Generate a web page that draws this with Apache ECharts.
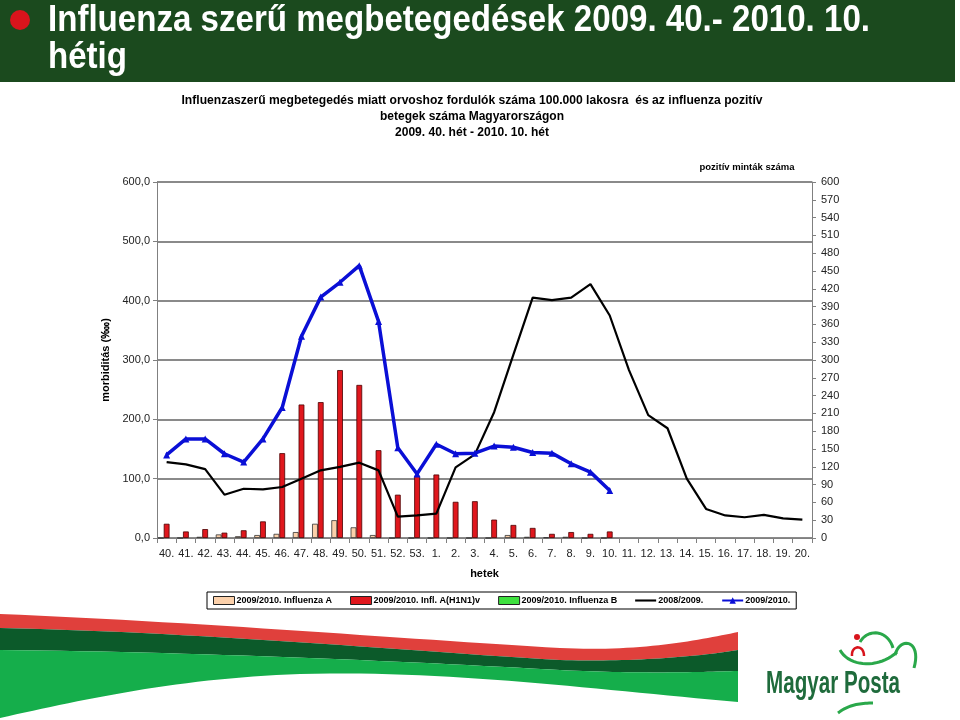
<!DOCTYPE html>
<html><head><meta charset="utf-8">
<script src="https://cdn.jsdelivr.net/npm/echarts@6/dist/echarts.min.js"></script>
<style>html,body{margin:0;padding:0;background:#fff}#c{width:960px;height:720px}</style>
</head><body><div id="c"></div>
<script>
// ---- data ----
const weeks = ['40.','41.','42.','43.','44.','45.','46.','47.','48.','49.','50.','51.','52.','53.',
  '1.','2.','3.','4.','5.','6.','7.','8.','9.','10.','11.','12.','13.','14.','15.','16.','17.','18.','19.','20.'];
const influenzaA = [0,0,2,6,3,5,7,10,24,30,18,5,0,0, 0,0,0,0,5,2,1,2,0,0, null,null,null,null,null,null,null,null,null,null];
const h1n1 = [24,11,15,9,13,28,143,225,229,283,258,148,73,105, 107,61,62,31,22,17,7,10,7,11, null,null,null,null,null,null,null,null,null,null];
const influenzaB = [0,0,0,0,0,0,0,0,0,0,0,0,0,0, 0,0,0,0,0,0,0,0,0,0, null,null,null,null,null,null,null,null,null,null];
const season0809 = [128,124,116,73,83,82,86,100,114,120,127,114,36,38, 41,119,141,212,309,405,401,405,428,375,283,207,185,100,49,38,35,39,33,31];
const season0910 = [140,167,167,142,128,167,220,340,406,431,459,365,152,108, 158,142,143,155,153,144,143,125,111,80, null,null,null,null,null,null,null,null,null,null];
const seriesNames = ['2009/2010. Influenza A','2009/2010. Infl. A(H1N1)v','2009/2010. Influenza B','2008/2009.','2009/2010.'];
const headerLines = ['Influenza szerű megbetegedések 2009. 40.- 2010. 10.','hétig'];
const chartTitleLines = ['Influenzaszerű megbetegedés miatt orvoshoz fordulók száma 100.000 lakosra  és az influenza pozitív','betegek száma Magyarországon','2009. 40. hét - 2010. 10. hét'];

// ---- helpers ----
const FF = "'Liberation Sans', Arial, Helvetica, sans-serif";
const cv = document.createElement('canvas').getContext('2d');
function fitText(text, x, y, font, targetW, fill, align, z) {
  cv.font = font;
  const w = cv.measureText(text).width;
  const s = targetW / w;
  return {type:'text', x:x, y:y, scaleX:s, z: z||10,
    style:{text:text, font:font, fill:fill, textAlign:align, align:align, textVerticalAlign:'middle', verticalAlign:'middle'}};
}
// sample a chain of cubic bezier segments: start point + [c1x,c1y,c2x,c2y,x,y]...
function bez(start, segs, n) {
  const pts = [start.slice()];
  let p0 = start;
  segs.forEach(s => {
    const [c1x,c1y,c2x,c2y,x,y] = s;
    for (let i = 1; i <= n; i++) {
      const t = i / n, u = 1 - t;
      pts.push([u*u*u*p0[0] + 3*u*u*t*c1x + 3*u*t*t*c2x + t*t*t*x,
                u*u*u*p0[1] + 3*u*u*t*c1y + 3*u*t*t*c2y + t*t*t*y]);
    }
    p0 = [x, y];
  });
  return pts;
}
function band(topStart, topSegs, botStart, botSegs, fill) {
  const pts = bez(topStart, topSegs, 30).concat(bez(botStart, botSegs, 30));
  return {type:'polygon', shape:{points:pts}, style:{fill:fill}, z:1};
}
function curve(start, segs, color, w) {
  return {type:'polyline', shape:{points:bez(start, segs, 20)}, style:{stroke:color, lineWidth:w, fill:null}, z:2};
}

const chart = echarts.init(document.getElementById('c'), null, {renderer:'canvas'});

const graphics = [
  {type:'rect', shape:{x:0,y:0,width:955,height:82}, style:{fill:'#1b4a1e'}, z:1},
  {type:'circle', shape:{cx:20,cy:20,r:10}, style:{fill:'#d8141c'}, z:2},
  fitText(headerLines[0], 48, 21, "bold 36px " + FF, 822, '#ffffff', 'left'),
  fitText(headerLines[1], 48, 58, "bold 36px " + FF, 79, '#ffffff', 'left'),
  fitText(chartTitleLines[0], 472, 101, "bold 12px " + FF, 581, '#000', 'center'),
  fitText(chartTitleLines[1], 472, 117, "bold 12px " + FF, 184, '#000', 'center'),
  fitText(chartTitleLines[2], 472, 133, "bold 12px " + FF, 154, '#000', 'center'),
  // bottom waves
  band([0,614], [[200,622,420,640,560,648],[640,652,700,640,738,632]],
       [738,650], [[690,658,620,662,560,660],[420,652,200,632,0,628]], '#e0403c'),
  band([0,628], [[200,632,420,652,560,660],[620,662,690,658,738,650]],
       [738,671], [[700,672,640,674,560,670],[420,662,200,652,0,650]], '#0c5a2a'),
  band([0,650], [[200,652,420,662,560,670],[640,674,700,672,738,671]],
       [738,702], [[600,690,450,670,300,674],[180,678,80,700,0,718]], '#15ae4b'),
  // logo
  curve([840,650], [[850,668,880,668,897,652]], '#2aa84a', 3),
  curve([860,642], [[868,628,888,630,893,648]], '#2aa84a', 3),
  curve([895,655], [[900,636,922,640,914,668]], '#2aa84a', 3),
  {type:'circle', shape:{cx:857,cy:637,r:3}, style:{fill:'#d8141c'}, z:2},
  curve([852,656], [[851,645,864,644,864,656]], '#d8141c', 2.5),
  fitText('Magyar Posta', 766, 684, "bold 32px " + FF, 134, '#1f6b3c', 'left'),
  curve([838,713], [[848,705,860,703,873,703]], '#2aa84a', 3)
];

const option = {
  animation:false,
  backgroundColor:'#ffffff',
  textStyle:{fontFamily:FF},
  grid:{left:157, right:148, top:182, bottom:182},
  legend:{
    left:207, top:592,
    data:[
      {name:seriesNames[0], icon:'rect', itemStyle:{borderColor:'#222', borderWidth:1}},
      {name:seriesNames[1], icon:'rect', itemStyle:{borderColor:'#222', borderWidth:1}},
      {name:seriesNames[2], icon:'rect', itemStyle:{borderColor:'#222', borderWidth:1}},
      {name:seriesNames[3], icon:'path://M0,0L20,0L20,2L0,2Z'},
      {name:seriesNames[4]}
    ],
    borderColor:'#000', borderWidth:1, padding:[4,6,4,6], itemGap:18,
    itemWidth:21, itemHeight:8,
    textStyle:{fontSize:9, fontWeight:'bold', color:'#000', padding:[0,0,0,-3]}
  },
  xAxis:{
    type:'category', data:weeks, boundaryGap:true,
    name:'hetek', nameLocation:'middle', nameGap:30,
    nameTextStyle:{fontSize:11, fontWeight:'bold', color:'#000'},
    axisLine:{lineStyle:{color:'#808080', width:1}},
    axisTick:{show:true, interval:0, length:5, lineStyle:{color:'#808080'}},
    axisLabel:{interval:0, fontSize:11, color:'#222', margin:10}
  },
  yAxis:[
    {type:'value', min:0, max:600, interval:100, position:'left',
     name:'morbiditás (‱)', nameLocation:'middle', nameGap:42, nameRotate:90,
     nameTextStyle:{fontSize:11, fontWeight:'bold', color:'#000'},
     axisLine:{show:true, lineStyle:{color:'#808080'}},
     axisTick:{show:true, length:4, lineStyle:{color:'#808080'}},
     splitLine:{show:true, lineStyle:{color:'#8a8a8a', width:2}},
     axisLabel:{fontSize:11, color:'#222', margin:7, formatter:v => v.toFixed(1).replace('.', ',')}},
    {type:'value', min:0, max:600, interval:30, position:'right',
     name:'pozitív minták száma', nameLocation:'end', nameGap:10,
     nameTextStyle:{fontSize:9.5, fontWeight:'bold', color:'#000', padding:[0,130,0,0]},
     axisLine:{show:true, lineStyle:{color:'#808080'}},
     axisTick:{show:true, length:4, lineStyle:{color:'#808080'}},
     splitLine:{show:false},
     axisLabel:{fontSize:11, color:'#222', margin:9}}
  ],
  series:[
    {name:seriesNames[0], type:'bar', yAxisIndex:1, data:influenzaA, barGap:'0%', barCategoryGap:'10%',
     itemStyle:{color:'#fbd0aa', borderColor:'#333', borderWidth:0.8}},
    {name:seriesNames[1], type:'bar', yAxisIndex:1, data:h1n1, barGap:'0%', barCategoryGap:'10%',
     itemStyle:{color:'#e0171d', borderColor:'#4a0000', borderWidth:0.8}},
    {name:seriesNames[2], type:'bar', yAxisIndex:1, data:influenzaB, barGap:'0%', barCategoryGap:'10%',
     itemStyle:{color:'#3ee03e', borderColor:'#333', borderWidth:0}},
    {name:seriesNames[3], type:'line', yAxisIndex:0, data:season0809, symbol:'none', showSymbol:false,
     lineStyle:{color:'#000', width:2.2}, itemStyle:{color:'#000'}, z:3},
    {name:seriesNames[4], type:'line', yAxisIndex:0, data:season0910, symbol:'triangle', symbolSize:7, showSymbol:true,
     lineStyle:{color:'#0a0fd6', width:3.5}, itemStyle:{color:'#0a0fd6'}, z:4}
  ],
  graphic: graphics
};
chart.setOption(option);
</script>
</body></html>
